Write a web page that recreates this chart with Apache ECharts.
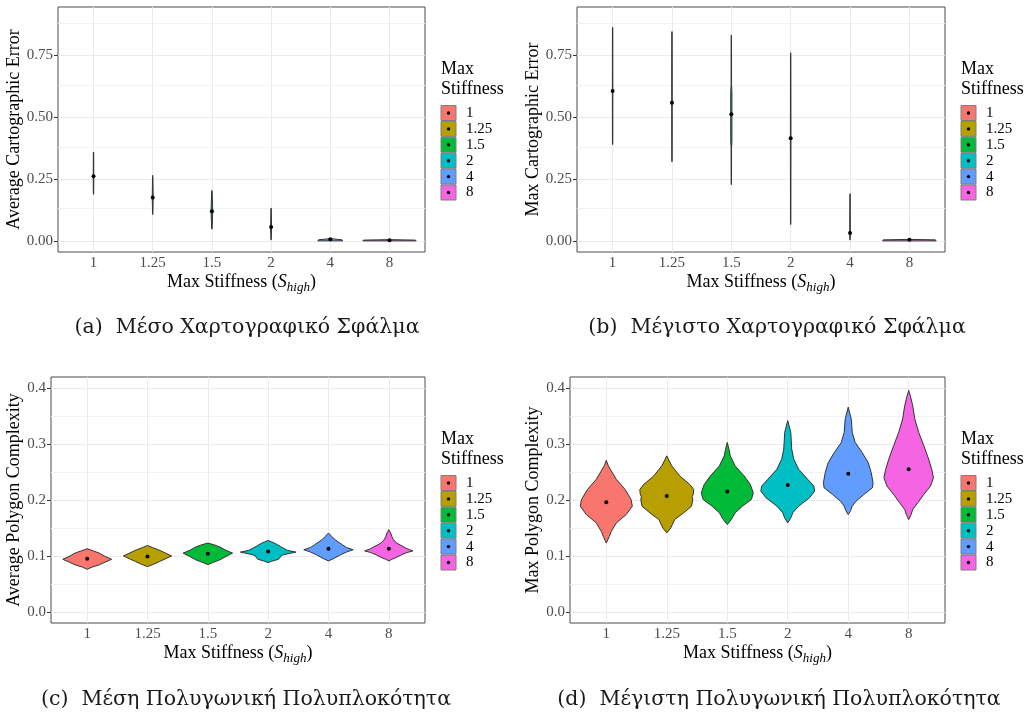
<!DOCTYPE html>
<html><head><meta charset="utf-8">
<script src="https://cdn.jsdelivr.net/npm/echarts@6/dist/echarts.min.js"></script>
<style>html,body{margin:0;padding:0;background:#fff}#c{width:1027px;height:717px}</style>
</head><body><div id="c"></div><script>
// ---------------- data ----------------
const categories = ['1', '1.25', '1.5', '2', '4', '8'];
const categoryPositions = [1, 2, 3, 4, 5, 6];
const legendTitle = 'Max\nStiffness';
const panelTitles = [
  '(a)  Μέσο Χαρτογραφικό Σφάλμα',
  '(b)  Μέγιστο Χαρτογραφικό Σφάλμα',
  '(c)  Μέση Πολυγωνική Πολυπλοκότητα',
  '(d)  Μέγιστη Πολυγωνική Πολυπλοκότητα'
];
const yTitles = ['Average Cartographic Error', 'Max Cartographic Error', 'Average Polygon Complexity', 'Max Polygon Complexity'];
const errorTicks = [0, 0.25, 0.5, 0.75];
const errorMinorTicks = [0.125, 0.375, 0.625, 0.875];
const complexityTicks = [0, 0.1, 0.2, 0.3, 0.4];
const complexityMinorTicks = [0.05, 0.15, 0.25, 0.35];

// violin profiles: [value, half-width in category units], plus group means
const avgErrorMeans = [0.261, 0.175, 0.120, 0.056, 0.007, 0.002];
const avgErrorShapes = [
  [[0.188, 0], [0.19, 0.003], [0.26, 0.005], [0.355, 0.003], [0.359, 0]],
  [[0.106, 0], [0.11, 0.003], [0.175, 0.008], [0.26, 0.003], [0.265, 0]],
  [[0.047, 0], [0.05, 0.004], [0.12, 0.014], [0.2, 0.004], [0.204, 0]],
  [[0.003, 0], [0.006, 0.003], [0.056, 0.008], [0.13, 0.003], [0.133, 0]],
  [[0.0, 0.21], [0.004, 0.2], [0.008, 0.05], [0.01, 0]],
  [[0.0, 0.45], [0.003, 0.44], [0.005, 0]]
];
const maxErrorMeans = [0.606, 0.558, 0.512, 0.415, 0.032, 0.005];
const maxErrorShapes = [
  [[0.389, 0], [0.395, 0.003], [0.6, 0.004], [0.855, 0.003], [0.863, 0]],
  [[0.319, 0], [0.325, 0.003], [0.56, 0.004], [0.84, 0.003], [0.846, 0]],
  [[0.227, 0], [0.235, 0.003], [0.379, 0.004], [0.4, 0.01], [0.6, 0.01], [0.632, 0.004], [0.825, 0.003], [0.832, 0]],
  [[0.066, 0], [0.075, 0.003], [0.4, 0.005], [0.75, 0.003], [0.76, 0]],
  [[0.003, 0], [0.01, 0.004], [0.03, 0.005], [0.185, 0.003], [0.191, 0]],
  [[0.0, 0.45], [0.004, 0.44], [0.006, 0]]
];
const avgComplexityMeans = [0.0948, 0.099, 0.104, 0.108, 0.113, 0.113];
const avgComplexityShapes = [
  [[0.076, 0], [0.080, 0.08], [0.084, 0.2], [0.089, 0.3], [0.094, 0.405], [0.099, 0.3], [0.105, 0.2], [0.109, 0.1], [0.111, 0.05], [0.113, 0]],
  [[0.081, 0], [0.085, 0.1], [0.090, 0.2], [0.095, 0.3], [0.100, 0.40], [0.105, 0.3], [0.111, 0.18], [0.115, 0.08], [0.1187, 0]],
  [[0.0845, 0], [0.088, 0.08], [0.093, 0.2], [0.099, 0.3], [0.105, 0.41], [0.110, 0.3], [0.116, 0.2], [0.120, 0.1], [0.123, 0]],
  [[0.088, 0], [0.0905, 0.06], [0.0917, 0.1], [0.094, 0.17], [0.097, 0.2], [0.099, 0.2], [0.102, 0.25], [0.1068, 0.46], [0.110, 0.32], [0.114, 0.25], [0.117, 0.2], [0.122, 0.12], [0.125, 0.06], [0.1277, 0]],
  [[0.091, 0], [0.094, 0.06], [0.096, 0.1], [0.102, 0.2], [0.107, 0.3], [0.111, 0.41], [0.115, 0.3], [0.120, 0.23], [0.125, 0.16], [0.129, 0.11], [0.135, 0.05], [0.141, 0]],
  [[0.091, 0], [0.094, 0.05], [0.096, 0.1], [0.102, 0.21], [0.106, 0.3], [0.109, 0.4], [0.113, 0.3], [0.116, 0.25], [0.123, 0.13], [0.130, 0.07], [0.135, 0.05], [0.141, 0.03], [0.147, 0]]
];
const maxComplexityMeans = [0.196, 0.207, 0.215, 0.227, 0.247, 0.255];
const maxComplexityShapes = [
  [[0.123, 0], [0.135, 0.05], [0.144, 0.083], [0.159, 0.165], [0.174, 0.33], [0.189, 0.43], [0.201, 0.41], [0.219, 0.31], [0.237, 0.165], [0.255, 0.066], [0.262, 0.03], [0.271, 0]],
  [[0.141, 0], [0.150, 0.066], [0.165, 0.13], [0.177, 0.28], [0.189, 0.41], [0.201, 0.43], [0.206, 0.42], [0.211, 0.44], [0.219, 0.445], [0.228, 0.38], [0.243, 0.215], [0.261, 0.083], [0.270, 0.04], [0.279, 0]],
  [[0.156, 0], [0.165, 0.066], [0.177, 0.13], [0.189, 0.25], [0.201, 0.40], [0.213, 0.43], [0.228, 0.38], [0.243, 0.28], [0.261, 0.13], [0.279, 0.05], [0.290, 0.03], [0.303, 0]],
  [[0.159, 0], [0.168, 0.05], [0.177, 0.083], [0.189, 0.18], [0.204, 0.36], [0.216, 0.445], [0.225, 0.43], [0.237, 0.33], [0.255, 0.18], [0.273, 0.1], [0.291, 0.066], [0.321, 0.05], [0.342, 0]],
  [[0.174, 0], [0.181, 0.04], [0.189, 0.066], [0.198, 0.13], [0.210, 0.26], [0.222, 0.40], [0.231, 0.41], [0.249, 0.38], [0.267, 0.33], [0.285, 0.23], [0.303, 0.115], [0.321, 0.066], [0.345, 0.05], [0.366, 0]],
  [[0.165, 0], [0.174, 0.04], [0.183, 0.066], [0.195, 0.15], [0.210, 0.25], [0.225, 0.36], [0.240, 0.41], [0.255, 0.38], [0.273, 0.33], [0.297, 0.25], [0.321, 0.165], [0.345, 0.1], [0.369, 0.066], [0.385, 0.03], [0.396, 0]]
];

// ---------------- styling / layout ----------------
const palette = ['#F8766D', '#B79F00', '#00BA38', '#00BFC4', '#619CFF', '#F564E3'];
const SERIF = '"Liberation Serif", "Times New Roman", serif';
const CAPTION = '"DejaVu Serif", serif';

const panels = [
  { grid: { left: 58, top: 7, width: 367, height: 245 }, yMin: -0.045, yMax: 0.945, ticks: errorTicks, minor: errorMinorTicks, dec: 2,
    shapes: avgErrorShapes, means: avgErrorMeans, nameGap: 29, caption: [247, 328] },
  { grid: { left: 577, top: 7, width: 368, height: 245 }, yMin: -0.045, yMax: 0.945, ticks: errorTicks, minor: errorMinorTicks, dec: 2,
    shapes: maxErrorShapes, means: maxErrorMeans, nameGap: 30, caption: [777, 328] },
  { grid: { left: 51, top: 377, width: 374, height: 246 }, yMin: -0.02, yMax: 0.42, ticks: complexityTicks, minor: complexityMinorTicks, dec: 1,
    shapes: avgComplexityShapes, means: avgComplexityMeans, nameGap: 23, caption: [246, 700] },
  { grid: { left: 570, top: 377, width: 375, height: 246 }, yMin: -0.02, yMax: 0.42, ticks: complexityTicks, minor: complexityMinorTicks, dec: 1,
    shapes: maxComplexityShapes, means: maxComplexityMeans, nameGap: 21, caption: [779, 700] }
];

function violinRenderer(shapes) {
  return function (params, api) {
    const i = params.dataIndex;
    const cx = api.value(0);
    const prof = shapes[i];
    const pts = [];
    for (let j = 0; j < prof.length; j++) pts.push(api.coord([cx + prof[j][1], prof[j][0]]));
    for (let j = prof.length - 1; j >= 0; j--) pts.push(api.coord([cx - prof[j][1], prof[j][0]]));
    const c = api.coord([cx, api.value(1)]);
    return {
      type: 'group',
      children: [
        { type: 'polygon', shape: { points: pts }, style: { fill: palette[i], stroke: '#333', lineWidth: 1 } },
        { type: 'circle', shape: { cx: c[0], cy: c[1], r: 2 }, style: { fill: '#000' } }
      ]
    };
  };
}

const grids = [], xAxes = [], yAxes = [], series = [], graphics = [];
panels.forEach((p, k) => {
  grids.push(Object.assign({ show: true, borderColor: '#4d4d4d', borderWidth: 1, backgroundColor: 'transparent' }, p.grid));
  xAxes.push({
    type: 'value', gridIndex: k, min: 0.4, max: 6.6,
    axisLine: { show: false },
    axisTick: { show: true, length: 4, lineStyle: { color: '#333' }, customValues: categoryPositions },
    axisLabel: { customValues: categoryPositions, formatter: v => categories[Math.round(v) - 1], color: '#4d4d4d', fontFamily: SERIF, fontSize: 15, margin: 4 },
    splitLine: { show: false },
    name: '{t|Max Stiffness (}{s|S}{sub|high}{t|)}',
    nameLocation: 'middle', nameGap: 19,
    nameTextStyle: {
      rich: {
        t: { fontFamily: SERIF, fontSize: 18, color: '#000' },
        s: { fontFamily: SERIF, fontSize: 18, fontStyle: 'italic', color: '#000' },
        sub: { fontFamily: SERIF, fontSize: 13, fontStyle: 'italic', color: '#000', padding: [10, 0, 0, 0] }
      }
    }
  });
  yAxes.push({
    type: 'value', gridIndex: k, min: p.yMin, max: p.yMax,
    axisLine: { show: false },
    axisTick: { show: true, length: 4, lineStyle: { color: '#333' }, customValues: p.ticks },
    axisLabel: { customValues: p.ticks, formatter: v => v.toFixed(p.dec), color: '#4d4d4d', fontFamily: SERIF, fontSize: 15, margin: 5 },
    splitLine: { show: false },
    name: yTitles[k], nameLocation: 'middle', nameRotate: 90, nameGap: p.nameGap,
    nameTextStyle: { fontFamily: SERIF, fontSize: 18, color: '#000' }
  });
  const ml = [];
  p.ticks.forEach(v => ml.push({ yAxis: v, lineStyle: { color: '#ebebeb', width: 1, type: 'solid' } }));
  p.minor.forEach(v => ml.push({ yAxis: v, lineStyle: { color: '#f3f3f3', width: 1, type: 'solid' } }));
  categoryPositions.forEach(v => ml.push({ xAxis: v, lineStyle: { color: '#ebebeb', width: 1, type: 'solid' } }));
  series.push({
    type: 'line', xAxisIndex: k, yAxisIndex: k, data: [], z: 1, silent: true,
    markLine: { silent: true, z: 1, symbol: ['none', 'none'], label: { show: false }, animation: false, data: ml }
  });
  series.push({
    type: 'custom', xAxisIndex: k, yAxisIndex: k, z: 10,
    data: p.means.map((m, i) => [categoryPositions[i], m]),
    encode: { x: 0, y: 1 },
    renderItem: violinRenderer(p.shapes)
  });
  // caption
  graphics.push({ type: 'text', x: p.caption[0], y: p.caption[1],
    style: { text: panelTitles[k], font: '20.5px ' + CAPTION, fill: '#1a1a1a', align: 'center', verticalAlign: 'middle' } });
  // legend
  const lx = p.grid.left + p.grid.width + 16;
  const ty = p.grid.top + 52;
  graphics.push({ type: 'text', x: lx, y: ty,
    style: { text: legendTitle, font: '18px ' + SERIF, fill: '#000', align: 'left', verticalAlign: 'top', lineHeight: 20 } });
  categories.forEach((c, i) => {
    const cy = p.grid.top + 106 + i * 15.9;
    graphics.push({ type: 'rect', shape: { x: lx, y: cy - 7.5, width: 15, height: 15 },
      style: { fill: palette[i], stroke: '#7f7f7f', lineWidth: 1 } });
    graphics.push({ type: 'circle', shape: { cx: lx + 7.5, cy: cy, r: 1.7 }, style: { fill: '#000' } });
    graphics.push({ type: 'text', x: lx + 25, y: cy,
      style: { text: c, font: '15px ' + SERIF, fill: '#000', align: 'left', verticalAlign: 'middle' } });
  });
});

const chart = echarts.init(document.getElementById('c'), null, { renderer: 'canvas' });
chart.setOption({
  backgroundColor: '#ffffff',
  animation: false,
  grid: grids, xAxis: xAxes, yAxis: yAxes, series: series,
  graphic: graphics
});
</script></body></html>
